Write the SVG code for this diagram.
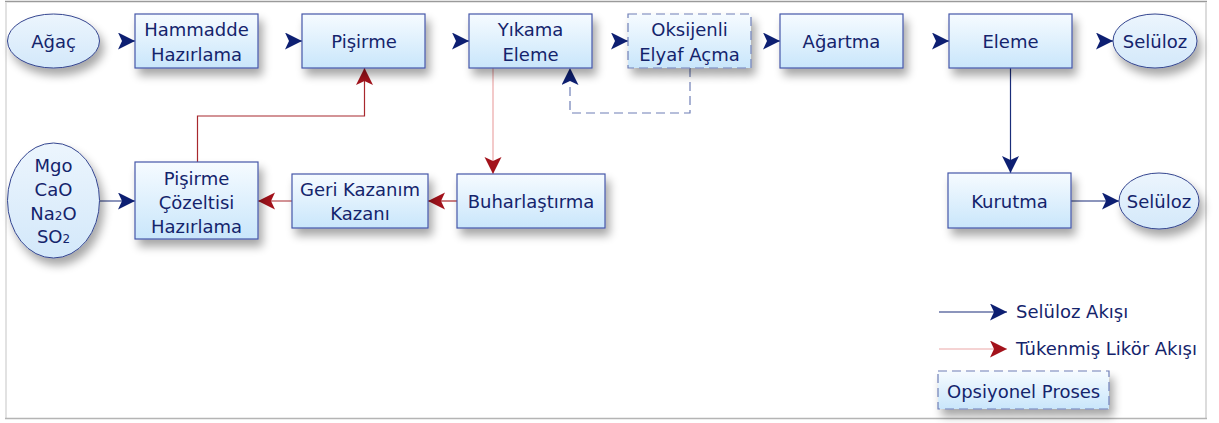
<svg xmlns="http://www.w3.org/2000/svg" width="1219" height="423" viewBox="0 0 1219 423">
  <defs>
    <linearGradient id="boxFill" x1="0" y1="0" x2="0" y2="1">
      <stop offset="0" stop-color="#f6fbff"/>
      <stop offset="1" stop-color="#c9e6fb"/>
    </linearGradient>
    <linearGradient id="ovalFill" x1="0" y1="0" x2="0" y2="1">
      <stop offset="0" stop-color="#ecf5fd"/>
      <stop offset="1" stop-color="#d3e8fa"/>
    </linearGradient>
    <filter id="shadow" x="-20%" y="-20%" width="150%" height="170%">
      <feGaussianBlur in="SourceAlpha" stdDeviation="5"/>
      <feOffset dx="4" dy="7" result="b"/>
      <feComponentTransfer><feFuncA type="linear" slope="0.35"/></feComponentTransfer>
      <feMerge><feMergeNode/><feMergeNode in="SourceGraphic"/></feMerge>
    </filter>
    <marker id="arrowBlue" markerUnits="userSpaceOnUse" markerWidth="18" markerHeight="18" refX="17" refY="8.5" orient="auto">
      <path d="M0,0 L17,8.5 L0,17 L4,8.5 Z" fill="#0d1f72"/>
    </marker>
    <marker id="arrowRed" markerUnits="userSpaceOnUse" markerWidth="18" markerHeight="18" refX="17" refY="8.5" orient="auto">
      <path d="M0,0 L17,8.5 L0,17 L4,8.5 Z" fill="#a3121b"/>
    </marker>
  </defs>
  <style>
    .box { fill: url(#boxFill); stroke: #4557a8; stroke-width: 1.2; filter: url(#shadow); }
    .dash { fill: url(#boxFill); stroke: #6f7fb6; stroke-width: 1.2; stroke-dasharray: 9 5; filter: url(#shadow); }
    .oval { fill: url(#ovalFill); stroke: #34458f; stroke-width: 1; filter: url(#shadow); }
    text { font-family: "DejaVu Sans", "Liberation Sans", sans-serif; font-size: 18px; fill: #14246c; }
    .c { text-anchor: middle; }
    .blue { stroke: #1a2d7a; stroke-width: 1.2; fill: none; }
    .red { stroke: #a8282e; stroke-width: 1.2; fill: none; }
    .pink { stroke: #eba7a7; stroke-width: 1.2; fill: none; }
    .opt { stroke: #6f7fb6; stroke-width: 1.2; stroke-dasharray: 9 5; fill: none; }
  </style>

  <rect width="1219" height="423" fill="#ffffff"/>
  <!-- page frame -->
  <g id="frame" fill="none">
    <line x1="5" y1="1.5" x2="1207" y2="1.5" stroke="#9a9a9a" stroke-width="1.5"/>
    <line x1="6" y1="2" x2="6" y2="418" stroke="#e2e2e2" stroke-width="2"/>
    <line x1="1206" y1="2" x2="1206" y2="418" stroke="#dcdcdc" stroke-width="2"/>
    <line x1="5" y1="418.5" x2="1207" y2="418.5" stroke="#b4b4b4" stroke-width="1.5"/>
  </g>

  <!-- connectors -->
  <g id="connectors">
    <line class="blue" x1="122" y1="41" x2="135" y2="41" marker-end="url(#arrowBlue)"/>
    <line class="blue" x1="289" y1="41" x2="302" y2="41" marker-end="url(#arrowBlue)"/>
    <line class="blue" x1="456" y1="41" x2="469" y2="41" marker-end="url(#arrowBlue)"/>
    <line class="blue" x1="615" y1="41" x2="628" y2="41" marker-end="url(#arrowBlue)"/>
    <line class="blue" x1="767" y1="41" x2="780" y2="41" marker-end="url(#arrowBlue)"/>
    <line class="blue" x1="936" y1="41" x2="949" y2="41" marker-end="url(#arrowBlue)"/>
    <line class="blue" x1="1100" y1="41" x2="1113" y2="41" marker-end="url(#arrowBlue)"/>
    <line class="blue" x1="1010.5" y1="68" x2="1010.5" y2="173" marker-end="url(#arrowBlue)"/>
    <line class="blue" x1="1071" y1="201" x2="1119" y2="201" marker-end="url(#arrowBlue)"/>
    <line class="blue" x1="100" y1="201" x2="135" y2="201" marker-end="url(#arrowBlue)"/>
    <path class="opt" d="M690,68 V113 H570 V86"/>
    <line x1="570" y1="84" x2="570" y2="68" stroke="none" marker-end="url(#arrowBlue)"/>
    <line class="pink" x1="493" y1="68" x2="493" y2="174" marker-end="url(#arrowRed)"/>
    <path class="red" d="M197.5,162 V116 H364.5 V68" marker-end="url(#arrowRed)"/>
    <line class="red" x1="457" y1="201" x2="428" y2="201" marker-end="url(#arrowRed)"/>
    <line class="red" x1="292" y1="201" x2="258" y2="201" marker-end="url(#arrowRed)"/>
  </g>

  <g id="agac"><ellipse class="oval" cx="53.5" cy="41" rx="46" ry="27"/><text class="c" x="53.5" y="48">Ağaç</text></g>
  <g id="hammadde"><rect class="box" x="135" y="14" width="123" height="54"/><text class="c" x="196.5" y="36">Hammadde</text><text class="c" x="196.5" y="61">Hazırlama</text></g>
  <g id="pisirme"><rect class="box" x="302" y="14" width="123" height="54"/><text class="c" x="364" y="48">Pişirme</text></g>
  <g id="yikama"><rect class="box" x="469" y="14" width="123" height="54"/><text class="c" x="530.5" y="36">Yıkama</text><text class="c" x="530.5" y="61">Eleme</text></g>
  <g id="oksijenli"><rect class="dash" x="628" y="14" width="123" height="54"/><text class="c" x="689.5" y="36">Oksijenli</text><text class="c" x="689.5" y="61">Elyaf Açma</text></g>
  <g id="agartma"><rect class="box" x="780" y="14" width="123" height="54"/><text class="c" x="841.5" y="48">Ağartma</text></g>
  <g id="eleme"><rect class="box" x="949" y="14" width="123" height="54"/><text class="c" x="1010.5" y="48">Eleme</text></g>
  <g id="seluloz1"><ellipse class="oval" cx="1155" cy="41" rx="42" ry="27"/><text class="c" x="1155" y="48">Selüloz</text></g>

  <g id="kimyasallar"><ellipse class="oval" cx="53.5" cy="200.5" rx="46" ry="57.5"/>
    <text class="c" x="53.5" y="172">Mgo</text>
    <text class="c" x="53.5" y="196">CaO</text>
    <text class="c" x="53.5" y="220">Na<tspan font-size="12">2</tspan>O</text>
    <text class="c" x="53.5" y="243">SO<tspan font-size="12">2</tspan></text>
  </g>
  <g id="cozelti"><rect class="box" x="135" y="162" width="123" height="77"/>
    <text class="c" x="196.5" y="185">Pişirme</text><text class="c" x="196.5" y="209">Çözeltisi</text><text class="c" x="196.5" y="233">Hazırlama</text></g>
  <g id="geri-kazanim"><rect class="box" x="292" y="174" width="136" height="54"/><text class="c" x="360" y="196">Geri Kazanım</text><text class="c" x="360" y="220">Kazanı</text></g>
  <g id="buharlastirma"><rect class="box" x="457" y="174" width="148" height="54"/><text class="c" x="531" y="208">Buharlaştırma</text></g>
  <g id="kurutma"><rect class="box" x="948" y="173" width="123" height="55"/><text class="c" x="1009.5" y="208">Kurutma</text></g>
  <g id="seluloz2"><ellipse class="oval" cx="1159" cy="201" rx="40" ry="28"/><text class="c" x="1159" y="208">Selüloz</text></g>

  <!-- legend -->
  <g id="legend">
    <line class="blue" x1="939" y1="312" x2="1007" y2="312" marker-end="url(#arrowBlue)"/>
    <text x="1016" y="318">Selüloz Akışı</text>
    <line class="pink" x1="939" y1="349" x2="1007" y2="349" marker-end="url(#arrowRed)"/>
    <text x="1016" y="355">Tükenmiş Likör Akışı</text>
    <rect class="dash" x="938" y="371" width="171" height="38"/>
    <text x="947" y="398">Opsiyonel Proses</text>
  </g>
</svg>
